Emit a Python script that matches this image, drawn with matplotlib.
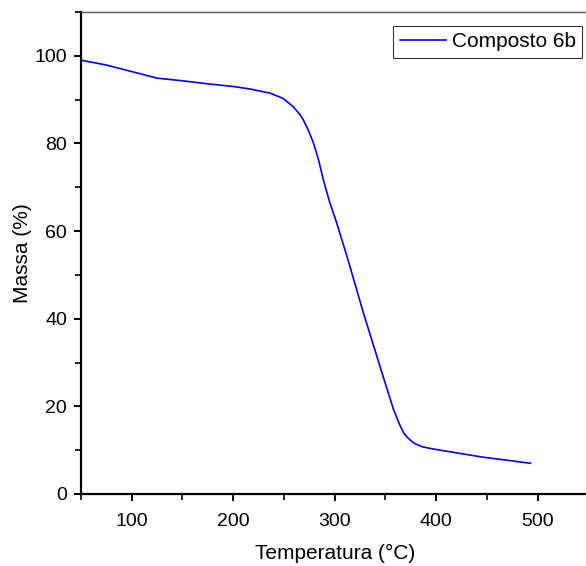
import matplotlib
matplotlib.use("Agg")
import matplotlib.pyplot as plt
from matplotlib.ticker import MultipleLocator

temperature = [50, 75, 100, 125, 150, 175, 200, 217, 236, 249, 259, 266, 269, 274, 279, 284,
               289, 295, 302, 313, 328, 345, 358, 364, 368, 372, 378, 386, 394,
               404, 425, 446, 470, 493]
mass = [99.0, 97.9, 96.4, 94.9, 94.3, 93.6, 93.0, 92.4, 91.5, 90.3, 88.4, 86.5, 85.4, 83.0, 80.1, 76.3,
        71.5, 66.6, 61.8, 53.5, 41.5, 28.8, 19.2, 15.8, 13.9, 12.8, 11.6, 10.8, 10.4,
        10.0, 9.2, 8.4, 7.7, 7.0]

series_label = "Composto 6b"
x_label = "Temperatura (°C)"
y_label = "Massa (%)"

plt.rcParams['font.family'] = ['Liberation Sans', 'DejaVu Sans']

fig = plt.figure(figsize=(5.86, 5.66), dpi=100)
ax_w = 507.5
ax = fig.add_axes([81/586, 72/566, ax_w/586, 482/566])

ax.plot(temperature, mass, color='#0000ff', lw=1.2, label=series_label)

ax.set_xlim(50, 550)
ax.set_ylim(0, 110)
ax.xaxis.set_major_locator(MultipleLocator(100))
ax.xaxis.set_minor_locator(MultipleLocator(50))
ax.yaxis.set_major_locator(MultipleLocator(20))
ax.yaxis.set_minor_locator(MultipleLocator(10))
ax.set_xticks([100, 200, 300, 400, 500])

for s in ['left', 'bottom']:
    ax.spines[s].set_linewidth(1.6)
    ax.spines[s].set_color('black')
ax.spines['top'].set_color('#555555')
ax.spines['top'].set_linewidth(1.0)
ax.spines['right'].set_visible(False)

ax.tick_params(which='major', direction='out', length=5, width=1.4, labelsize=14)
ax.tick_params(axis='x', which='major', pad=9)
ax.tick_params(axis='y', which='major', pad=5)
ax.tick_params(which='minor', direction='out', length=4, width=1.2)

ax.set_xlabel(x_label, fontsize=15, labelpad=10)
ax.set_ylabel(y_label, fontsize=15)
ax.yaxis.set_label_coords((32 - 81) / ax_w, 0.5)

leg = ax.legend(loc='upper right', frameon=True, fancybox=False, fontsize=15,
                handlelength=2.2, borderpad=0.3, borderaxespad=0.0, handletextpad=0.3)
leg.get_frame().set_edgecolor('black')
leg.get_frame().set_linewidth(0.8)
leg.set_bbox_to_anchor((582/586, (566-26)/566), transform=fig.transFigure)

fig.savefig("out.png", dpi=100)
